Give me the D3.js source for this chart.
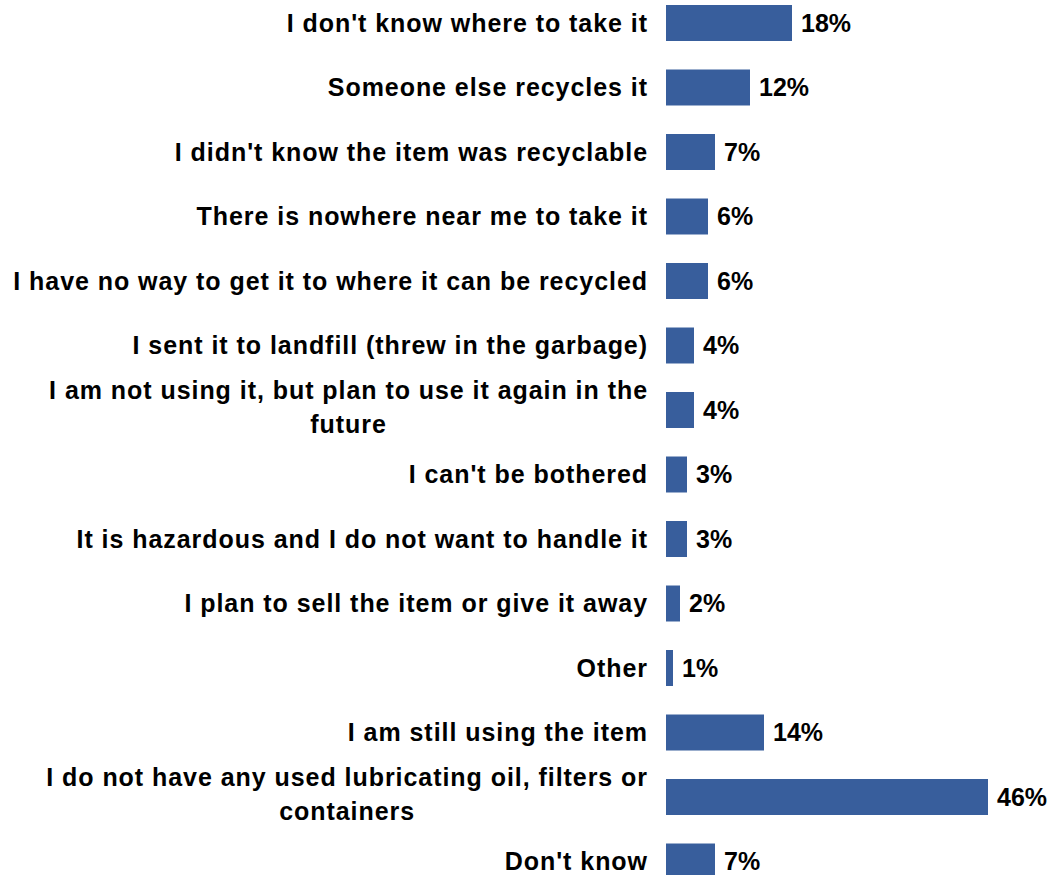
<!DOCTYPE html>
<html>
<head>
<meta charset="utf-8">
<script src="https://cdn.jsdelivr.net/npm/d3@7"></script>
<style>
  html, body { margin: 0; padding: 0; background: #fff; }
  svg text { font-family: "Liberation Sans", Arial, sans-serif; font-weight: bold; fill: #000; }
  .cat-label { letter-spacing: 0.95px; }
</style>
</head>
<body>
<svg id="chart" width="1049" height="875"></svg>
<script>
// Reasons for not recycling used lubricating oil, filters or containers
const categories = [
  "I don't know where to take it",
  "Someone else recycles it",
  "I didn't know the item was recyclable",
  "There is nowhere near me to take it",
  "I have no way to get it to where it can be recycled",
  "I sent it to landfill (threw in the garbage)",
  "I am not using it, but plan to use it again in the future",
  "I can't be bothered",
  "It is hazardous and I do not want to handle it",
  "I plan to sell the item or give it away",
  "Other",
  "I am still using the item",
  "I do not have any used lubricating oil, filters or containers",
  "Don't know"
];
const values = [18, 12, 7, 6, 6, 4, 4, 3, 3, 2, 1, 14, 46, 7];

const svg = d3.select("#chart");
const barColor = "#385E9C";
const fontSize = 25;
const labelRight = 648;
const wrapWidth = 650;

const x = d3.scaleLinear().domain([0, 50]).range([666, 1016]);
const y = d3.scaleBand()
  .domain(categories)
  .range([5, 879.5])
  .paddingInner(0.442)
  .paddingOuter(0);

// bars
svg.append("g")
  .selectAll("rect")
  .data(values)
  .join("rect")
  .attr("x", x(0))
  .attr("y", (d, i) => y(categories[i]))
  .attr("width", d => x(d) - x(0))
  .attr("height", y.bandwidth())
  .attr("fill", barColor);

// value labels
svg.append("g")
  .selectAll("text")
  .data(values)
  .join("text")
  .attr("x", d => x(d) + 9)
  .attr("y", (d, i) => y(categories[i]) + y.bandwidth() / 2)
  .attr("dy", "0.35em")
  .style("font-size", fontSize + "px")
  .text(d => d + "%");

// category labels, wrapped onto two lines when too long
const measure = svg.append("text").attr("class", "cat-label")
  .style("font-size", fontSize + "px").attr("visibility", "hidden");
function textWidth(s) { measure.text(s); return measure.node().getComputedTextLength(); }

function wrapLines(label) {
  const words = label.split(" ");
  const lines = [];
  let line = [];
  for (const w of words) {
    const trial = line.concat(w).join(" ");
    if (line.length && textWidth(trial) > wrapWidth) {
      lines.push(line.join(" "));
      line = [w];
    } else {
      line.push(w);
    }
  }
  if (line.length) lines.push(line.join(" "));
  return lines;
}

const lineHeight = 34;
const labelG = svg.append("g");
categories.forEach(cat => {
  const lines = wrapLines(cat);
  const cy = y(cat) + y.bandwidth() / 2;
  if (lines.length === 1) {
    labelG.append("text")
      .attr("class", "cat-label")
      .attr("x", labelRight)
      .attr("y", cy)
      .attr("dy", "0.35em")
      .attr("text-anchor", "end")
      .style("font-size", fontSize + "px")
      .text(lines[0]);
  } else {
    const maxW = d3.max(lines, textWidth);
    const cx = labelRight - maxW / 2;
    const top = cy - 3 - (lines.length - 1) / 2 * lineHeight;
    lines.forEach((ln, k) => {
      labelG.append("text")
        .attr("class", "cat-label")
        .attr("x", cx)
        .attr("y", top + k * lineHeight)
        .attr("dy", "0.35em")
        .attr("text-anchor", "middle")
        .style("font-size", fontSize + "px")
        .text(ln);
    });
  }
});
measure.remove();
</script>
</body>
</html>
